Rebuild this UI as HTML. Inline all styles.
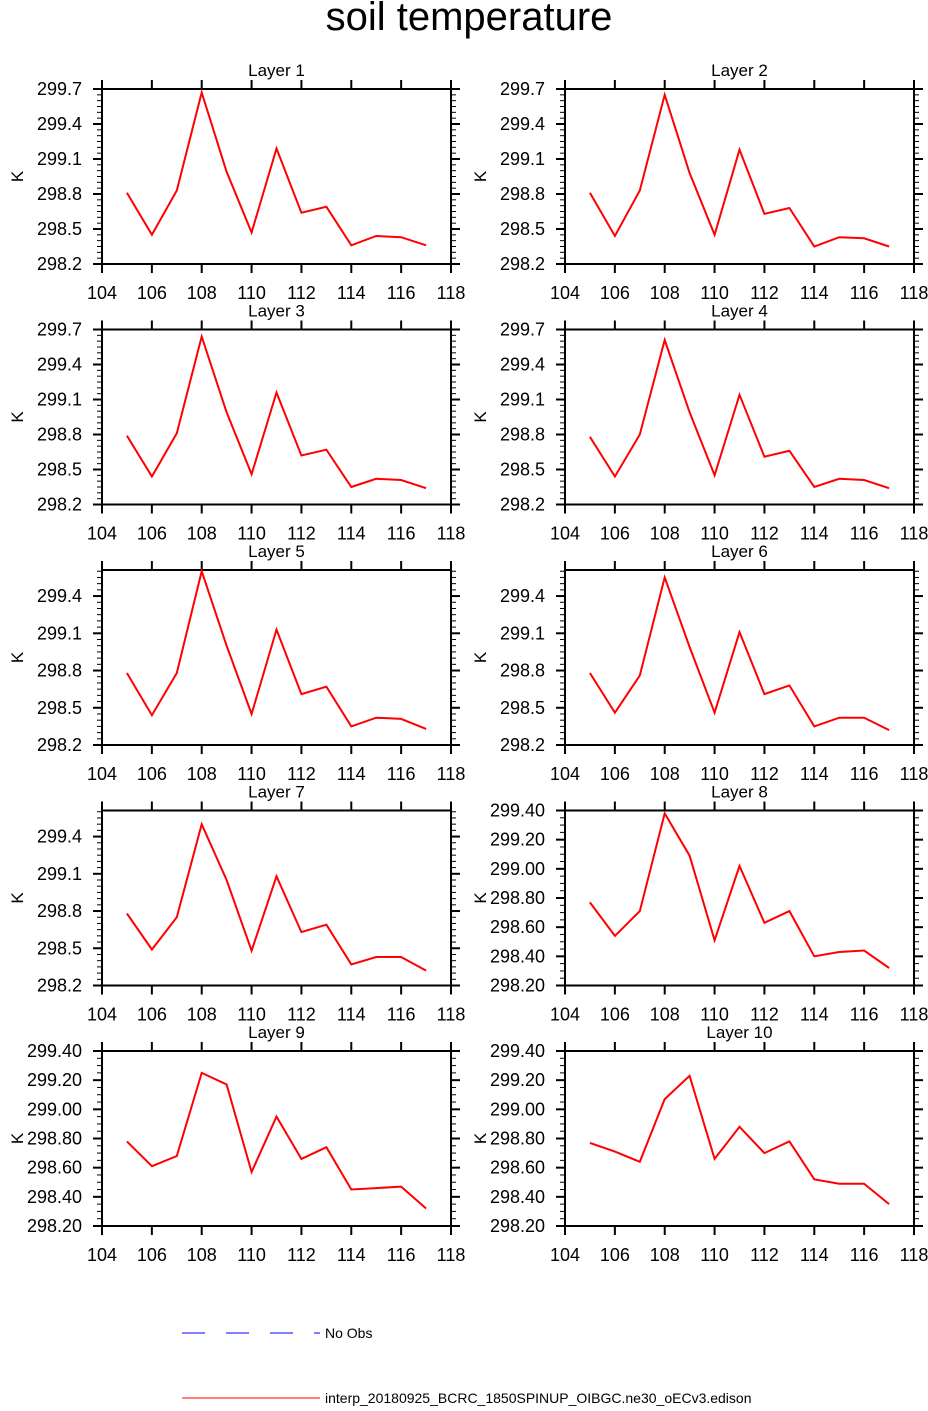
<!DOCTYPE html>
<html><head><meta charset="utf-8"><style>
body{margin:0;background:#fff;width:928px;height:1406px;overflow:hidden}
svg text{font-family:"Liberation Sans",sans-serif;fill:#000}
</style></head><body>
<svg id="chart" width="928" height="1406" viewBox="0 0 928 1406" xmlns="http://www.w3.org/2000/svg">
<text x="469" y="30" font-size="40" text-anchor="middle">soil temperature</text>
<g>
<line x1="182" y1="1333" x2="320" y2="1333" stroke="#33f" stroke-width="1.2" stroke-dasharray="23,21"/>
<text x="325" y="1338" font-size="14">No Obs</text>
<line x1="182" y1="1398" x2="320" y2="1398" stroke="#f33" stroke-width="1.2"/>
<text x="325" y="1403" font-size="14">interp_20180925_BCRC_1850SPINUP_OIBGC.ne30_oECv3.edison</text>
</g>
</svg>
<script>
const years=[105,106,107,108,109,110,111,112,113,114,115,116,117];
const xTicks=[104,106,108,110,112,114,116,118];
const layer1=[298.81,298.45,298.83,299.67,298.99,298.47,299.19,298.64,298.69,298.36,298.44,298.43,298.36];
const layer2=[298.81,298.44,298.83,299.65,298.98,298.45,299.18,298.63,298.68,298.35,298.43,298.42,298.35];
const layer3=[298.79,298.44,298.81,299.64,298.99,298.46,299.16,298.62,298.67,298.35,298.42,298.41,298.34];
const layer4=[298.78,298.44,298.80,299.61,298.99,298.45,299.14,298.61,298.66,298.35,298.42,298.41,298.34];
const layer5=[298.78,298.44,298.78,299.60,299.00,298.45,299.13,298.61,298.67,298.35,298.42,298.41,298.33];
const layer6=[298.78,298.46,298.76,299.55,298.99,298.46,299.11,298.61,298.68,298.35,298.42,298.42,298.32];
const layer7=[298.78,298.49,298.75,299.50,299.05,298.48,299.08,298.63,298.69,298.37,298.43,298.43,298.32];
const layer8=[298.77,298.54,298.71,299.38,299.09,298.51,299.02,298.63,298.71,298.40,298.43,298.44,298.32];
const layer9=[298.78,298.61,298.68,299.25,299.17,298.57,298.95,298.66,298.74,298.45,298.46,298.47,298.32];
const layer10=[298.77,298.71,298.64,299.07,299.23,298.66,298.88,298.70,298.78,298.52,298.49,298.49,298.35];
const yTicksA=[298.2,298.5,298.8,299.1,299.4,299.7];
const yTicksB=[298.2,298.5,298.8,299.1,299.4];
const yTicksC=[298.2,298.4,298.6,298.8,299.0,299.2,299.4];
const panels=[
 {t:"Layer 1",d:layer1,yt:yTicksA,ymax:299.7,dec:1},
 {t:"Layer 2",d:layer2,yt:yTicksA,ymax:299.7,dec:1},
 {t:"Layer 3",d:layer3,yt:yTicksA,ymax:299.7,dec:1},
 {t:"Layer 4",d:layer4,yt:yTicksA,ymax:299.7,dec:1},
 {t:"Layer 5",d:layer5,yt:yTicksB,ymax:299.61,dec:1},
 {t:"Layer 6",d:layer6,yt:yTicksB,ymax:299.61,dec:1},
 {t:"Layer 7",d:layer7,yt:yTicksB,ymax:299.61,dec:1},
 {t:"Layer 8",d:layer8,yt:yTicksC,ymax:299.4,dec:2},
 {t:"Layer 9",d:layer9,yt:yTicksC,ymax:299.4,dec:2},
 {t:"Layer 10",d:layer10,yt:yTicksC,ymax:299.4,dec:2}
];
const svg=document.getElementById('chart');
const NS="http://www.w3.org/2000/svg";
function mk(tag,attrs,parent){const e=document.createElementNS(NS,tag);for(const k in attrs)e.setAttribute(k,attrs[k]);parent.appendChild(e);return e;}
panels.forEach((p,i)=>{
 const col=i%2,row=Math.floor(i/2);
 const L=col?565:102,R=col?914:451,T=89+row*240.5,B=T+175;
 const ymin=298.2;
 const xs=v=>L+(v-104)/(118-104)*(R-L);
 const ys=v=>B-(v-ymin)/(p.ymax-ymin)*(B-T);
 const g=mk('g',{},svg);
 
 
 const tt=mk('text',{x:(L+R)/2,y:T-13,'font-size':17,'text-anchor':'middle'},g);tt.textContent=p.t;
 
 
 const yl=mk('text',{x:0,y:0,'font-size':17,'text-anchor':'middle',transform:`translate(${L-79},${(T+B)/2}) rotate(-90)`},g);yl.textContent='K';
 
 
 const fr=mk('rect',{x:L,y:T,width:R-L,height:B-T,fill:'none',stroke:'#000','stroke-width':2},g);
 
 
 xTicks.forEach(v=>{const x=xs(v);
  mk('line',{x1:x,y1:B,x2:x,y2:B+9,stroke:'#000','stroke-width':2},g);
  mk('line',{x1:x,y1:T,x2:x,y2:T-9,stroke:'#000','stroke-width':2},g);
  const tl=mk('text',{x:x,y:B+35,'font-size':18,'text-anchor':'middle'},g);tl.textContent=v;
  
  
 });
 const step=p.dec===1?0.3:0.2, minor=step/(p.dec===1?6:4);
 for(let v=ymin;v<=p.ymax+1e-6;v+=minor){const y=ys(v);
  mk('line',{x1:L-5,y1:y,x2:L,y2:y,stroke:'#000','stroke-width':1},g);
  mk('line',{x1:R,y1:y,x2:R+5,y2:y,stroke:'#000','stroke-width':1},g);}
 p.yt.forEach(v=>{const y=ys(v);
  mk('line',{x1:L-9,y1:y,x2:L+1,y2:y,stroke:'#000','stroke-width':2},g);
  mk('line',{x1:R-1,y1:y,x2:R+9,y2:y,stroke:'#000','stroke-width':2},g);
  const tl=mk('text',{x:L-20,y:y+6,'font-size':18,'text-anchor':'end'},g);tl.textContent=v.toFixed(p.dec);
  
  
 });
 const pts=p.d.map((v,j)=>xs(years[j]).toFixed(1)+','+ys(v).toFixed(1)).join(' ');
 const ln=mk('polyline',{points:pts,fill:'none',stroke:'#f00','stroke-width':2},g);
 
 
});
</script>
</body></html>
